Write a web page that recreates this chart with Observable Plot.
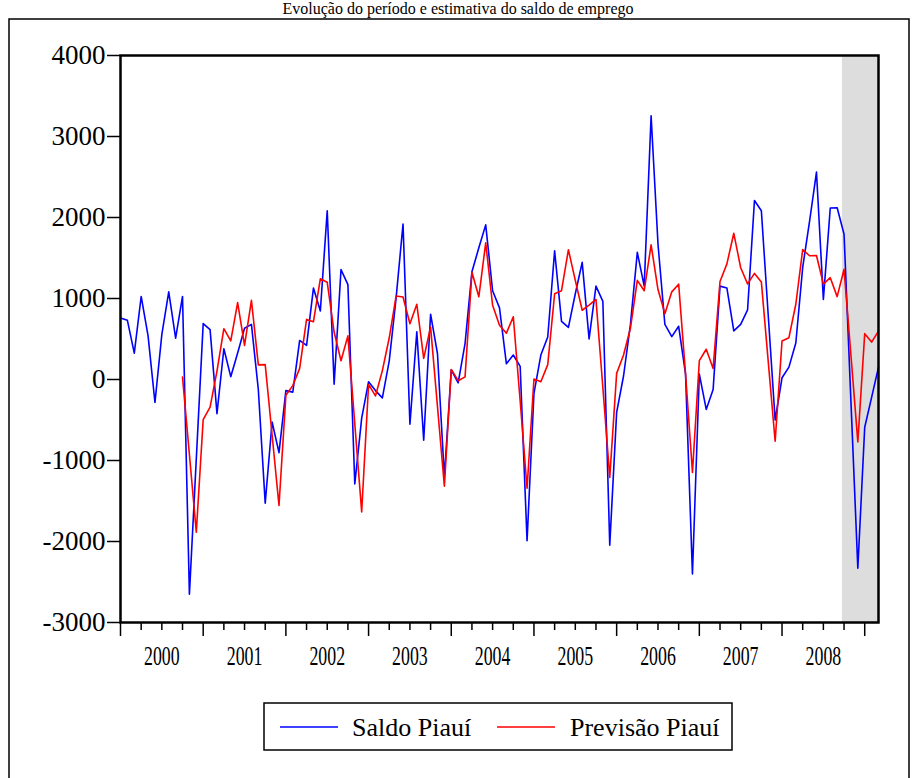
<!DOCTYPE html>
<html><head><meta charset="utf-8">
<script src="https://cdn.jsdelivr.net/npm/d3@7"></script>
<script src="https://cdn.jsdelivr.net/npm/@observablehq/plot@0.6"></script>
<style>
body{margin:0;background:#fff;}
#chart{position:relative;width:917px;height:778px;overflow:hidden;background:#fff;}
</style>
</head><body><div id="chart"></div>
<script>
// ---- data (monthly, Jan 2000 – Mar 2009) ----
const startYear = 2000;
const saldo = [
  760, 730, 326, 1025, 539, -284, 558, 1082, 510, 1025, -2651, -980,
  690, 615, -421, 380, 35, 326, 633, 680, -123, -1526, -525, -903,
  -137, -156, 482, 421, 1129, 846, 2084, -57, 1356, 1172, -1290, -477,
  -28, -137, -227, 230, 1011, 1920, -552, 588, -750, 806, 318, -1200,
  120, -42, 444, 1330, 1626, 1909, 1096, 884, 194, 302, 161, -1990,
  -170, 302, 525, 1588, 718, 643, 1059, 1446, 501, 1153, 964, -2046,
  -406, 43, 680, 1569, 1153, 3256, 1673, 680, 529, 657, 66, -2401,
  66, -369, -123, 1153, 1129, 600, 680, 860, 2210, 2084, 790, -500,
  21, 153, 450, 1385, 1956, 2561, 988, 2117, 2120, 1794, -270, -2330,
  -590, -220, 153
];
const previsao = [
  null, null, null, null, null, null, null, null, null, 30, -927, -1884,
  -494, -341, 104, 627, 476, 950, 421, 978, 180, 184, -685, -1555,
  -194, -76, 137, 742, 714, 1243, 1200, 586, 232, 539, -548, -1635,
  -61, -203, 110, 515, 1031, 1019, 689, 929, 260, 648, -335, -1318,
  124, -15, 33, 1323, 1021, 1687, 917, 671, 572, 775, -265, -1342,
  5, -28, 184, 1059, 1096, 1602, 1224, 855, 917, 988, -99, -1210,
  76, 302, 633, 1224, 1096, 1663, 1110, 813, 1082, 1177, 66, -1148,
  232, 373, 137, 1210, 1427, 1805, 1380, 1180, 1310, 1205, 220, -762,
  475, 516, 929, 1605, 1528, 1531, 1177, 1257, 1023, 1361, 300, -770,
  566, 462, 598
];
const yTicks = [-3000, -2000, -1000, 0, 1000, 2000, 3000, 4000];
const yearLabels = [2000, 2001, 2002, 2003, 2004, 2005, 2006, 2007, 2008];
const forecastStartIndex = 105; // Oct 2008
const seriesNames = ["Saldo Piauí", "Previsão Piauí"];
const seriesColors = ["#0000ff", "#ff0000"];
const titleText = "Evolução do período e estimativa do saldo de emprego";

// ---- build ----
const tpos = i => startYear + i / 12;
const rows = saldo.map((v, i) => ({x: tpos(i), saldo: v, previsao: previsao[i]}));
const lastIdx = saldo.length - 1;
const yearTicks = d3.range(startYear, startYear + 10);
const quarterTicks = d3.range(startYear * 4, (startYear + 10) * 4 + 1).map(q => q / 4).filter(q => q % 1 !== 0 && q <= tpos(lastIdx));
const shade = [{x1: tpos(forecastStartIndex) - 0.02, x2: tpos(lastIdx)}];

const plot = Plot.plot({
  width: 917, height: 778,
  marginTop: 55, marginBottom: 156, marginLeft: 120, marginRight: 39,
  x: {domain: [tpos(0), tpos(lastIdx)], label: null},
  y: {domain: [-3000, 4000], label: null},
  style: {fontFamily: "'Liberation Serif', 'Times New Roman', serif", fontSize: "26px", background: "transparent", color: "black", overflow: "visible"},
  marks: [
    Plot.rect(shade, {x1: "x1", x2: "x2", fill: "#dddddd"}),
    Plot.line(rows, {x: "x", y: "saldo", stroke: seriesColors[0], strokeWidth: 1.6}),
    Plot.line(rows.filter(d => d.previsao != null), {x: "x", y: "previsao", stroke: seriesColors[1], strokeWidth: 1.6}),
    Plot.axisY({ticks: yTicks, tickSize: 13, tickPadding: 2, tickFormat: d => String(d), strokeWidth: 1.5, fontSize: 27}),
    Plot.axisX({ticks: yearTicks, tickSize: 14, tickFormat: () => "", strokeWidth: 1.5}),
    Plot.axisX({ticks: quarterTicks, tickSize: 8, tickFormat: () => "", strokeWidth: 1.5}),
    Plot.axisX({ticks: yearLabels.map(y => y + 0.5), tickSize: 0, tickPadding: 23, tickFormat: d => String(Math.floor(d)), fontSize: 27}),
    Plot.frame({strokeWidth: 2.5})
  ]
});
const chart = document.getElementById("chart");
chart.appendChild(plot);

// condense year labels (narrow serif digits as in the reference)
d3.select(plot).selectAll('g[aria-label="x-axis tick label"] text').each(function() {
  if (this.textContent.trim() === "") return;
  const w = this.getComputedTextLength();
  this.setAttribute("textLength", w * 0.66);
  this.setAttribute("lengthAdjust", "spacingAndGlyphs");
});

const svg = d3.select(plot);
// outer frame
svg.insert("rect", ":first-child").attr("x", 9).attr("y", 19).attr("width", 900).attr("height", 800)
  .attr("fill", "white").attr("stroke", "black").attr("stroke-width", 1.5);
// title (at the very top, above the frame)
svg.append("text").attr("x", 458).attr("y", 14).attr("text-anchor", "middle")
  .attr("font-size", 16).attr("fill", "black").text(titleText);
// legend
const lg = svg.append("g").attr("text-anchor", "start");
lg.append("rect").attr("x", 264).attr("y", 703).attr("width", 468).attr("height", 47)
  .attr("fill", "white").attr("stroke", "black").attr("stroke-width", 1.5);
const legendItems = [
  {name: seriesNames[0], color: seriesColors[0], lx: 280, tx: 352},
  {name: seriesNames[1], color: seriesColors[1], lx: 497, tx: 570}
];
legendItems.forEach(it => {
  lg.append("line").attr("x1", it.lx).attr("x2", it.lx + 58).attr("y1", 727).attr("y2", 727)
    .attr("stroke", it.color).attr("stroke-width", 1.6);
  lg.append("text").attr("x", it.tx).attr("y", 736).attr("text-anchor", "start")
    .attr("font-size", 26).attr("fill", "black").text(it.name);
});
</script>
</body></html>
